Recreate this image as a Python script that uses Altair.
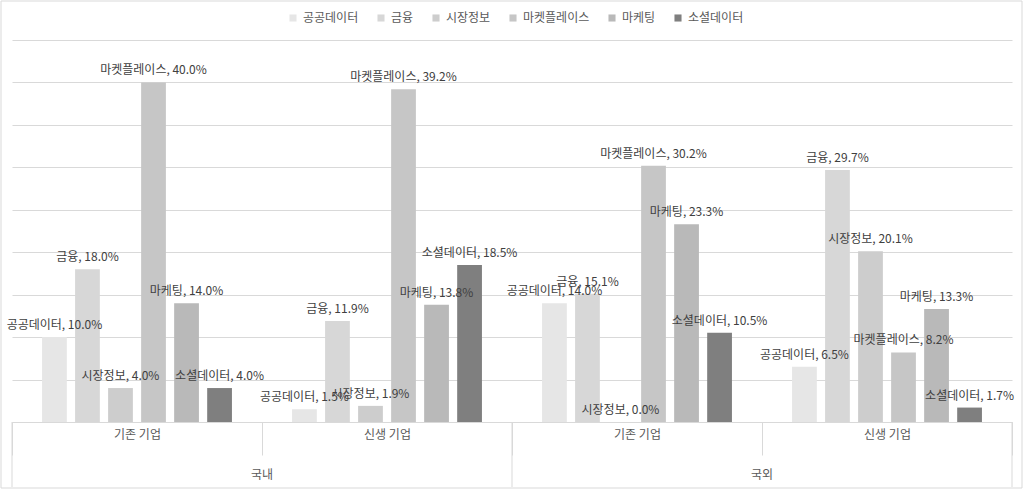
import altair as alt
import pandas as pd

groups = ["국내|기존 기업", "국내|신생 기업", "국외|기존 기업", "국외|신생 기업"]
series = ["공공데이터", "금융", "시장정보", "마켓플레이스", "마케팅", "소셜데이터"]
colors = ["#e6e6e6", "#d7d7d7", "#cdcdcd", "#c6c6c6", "#b9b9b9", "#7f7f7f"]

v_dom_old = [10.0, 18.0, 4.0, 40.0, 14.0, 4.0]
v_dom_new = [1.5, 11.9, 1.9, 39.2, 13.8, 18.5]
v_for_old = [14.0, 15.1, 0.0, 30.2, 23.3, 10.5]
v_for_new = [6.5, 29.7, 20.1, 8.2, 13.3, 1.7]

regions = ["국내", "국외"]
region_anchor = ["국내|신생 기업", "국외|신생 기업"]
y_ticks = [0, 5, 10, 15, 20, 25, 30, 35, 40, 45]

rows = []
for g, vals in zip(groups, [v_dom_old, v_dom_new, v_for_old, v_for_new]):
    for s, v in zip(series, vals):
        rows.append({"group": g, "series": s, "value": v, "label": f"{s}, {v:.1f}%"})
df = pd.DataFrame(rows)

W, H = 1000, 382
FONT = "Noto Sans CJK KR"
GRID = "#d9d9d9"
TXT = "#595959"

xscale = alt.Scale(domain=groups, paddingInner=0, paddingOuter=0)
xoff = alt.XOffset("series:N", scale=alt.Scale(domain=series, paddingInner=0.25, paddingOuter=0.91))
yscale = alt.Scale(domain=[0, 45], nice=False)

bars = alt.Chart(df).mark_bar().encode(
    x=alt.X("group:N", scale=xscale, sort=groups,
            axis=alt.Axis(title=None, labelExpr="split(datum.label, '|')[1]", labelAngle=0,
                          tickBand="extent", tickSize=33, tickColor=GRID, domainColor=GRID,
                          labelPadding=-21, labelFontSize=12, labelColor=TXT, labelFont=FONT,
                          labelBaseline="middle")),
    xOffset=xoff,
    y=alt.Y("value:Q", scale=yscale,
            axis=alt.Axis(title=None, values=y_ticks, labels=False, ticks=False, domain=False,
                          grid=True, gridColor=GRID)),
    color=alt.Color("series:N", scale=alt.Scale(domain=series, range=colors),
                    legend=alt.Legend(title=None, orient="none", direction="horizontal",
                                      legendX=275, legendY=-28, symbolType="square",
                                      symbolSize=50, symbolStrokeWidth=0, labelFontSize=12,
                                      labelColor=TXT, labelFont=FONT, columnPadding=16,
                                      labelOffset=4)),
)

labels = alt.Chart(df).mark_text(baseline="bottom", dy=-5, fontSize=12, color="#404040", font=FONT).encode(
    x=alt.X("group:N", scale=xscale, sort=groups),
    xOffset=xoff,
    y=alt.Y("value:Q", scale=yscale),
    text="label:N",
)

edge_df = pd.DataFrame({"group": ["국내|기존 기업", "국외|기존 기업"]})
edges = alt.Chart(edge_df).mark_rule(color=GRID, strokeWidth=1).encode(
    x=alt.X("group:N", scale=xscale, sort=groups, bandPosition=0),
    y=alt.value(H), y2=alt.value(H + 65),
)
end_df = pd.DataFrame({"group": ["국외|신생 기업"]})
end_edge = alt.Chart(end_df).mark_rule(color=GRID, strokeWidth=1).encode(
    x=alt.X("group:N", scale=xscale, sort=groups, bandPosition=1),
    y=alt.value(H), y2=alt.value(H + 65),
)

reg_df = pd.DataFrame({"group": region_anchor, "region": regions})
reg_text = alt.Chart(reg_df).mark_text(fontSize=12, color=TXT, font=FONT, baseline="middle").encode(
    x=alt.X("group:N", scale=xscale, sort=groups, bandPosition=0),
    y=alt.value(H + 53),
    text="region:N",
)

frame = alt.Chart(pd.DataFrame({"a": [0]})).mark_rect(fill="transparent", stroke=GRID, strokeWidth=1).encode(
    x=alt.value(-11), x2=alt.value(W + 10), y=alt.value(-39), y2=alt.value(H + 66),
)

chart = alt.layer(bars, labels, edges, end_edge, reg_text, frame).properties(
    width=W, height=H,
    autosize=alt.AutoSizeParams(type="none"),
    padding={"left": 12, "top": 40, "right": 12, "bottom": 68},
    background="white",
).configure_view(stroke=None)

chart.save("out.html", embed_options={"renderer": "svg", "actions": False})
